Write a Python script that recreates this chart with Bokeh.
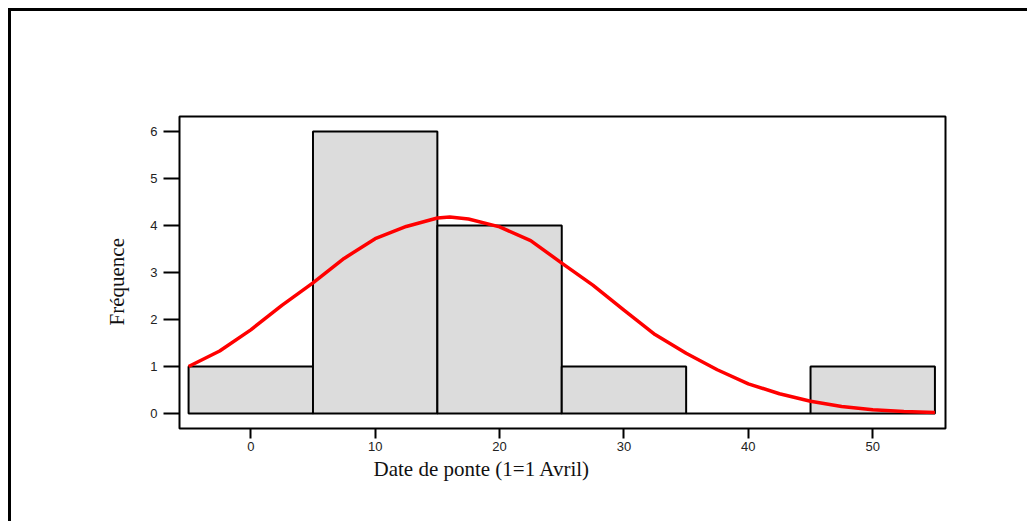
from bokeh.plotting import figure
from bokeh.models import Range1d, Title, FixedTicker
from bokeh.embed import file_html
from bokeh.resources import INLINE

# Histogram data
bin_left = [-5, 5, 15, 25, 35, 45]
bin_right = [5, 15, 25, 35, 45, 55]
counts = [1, 6, 4, 1, 0, 1]

# Fitted normal curve
curve_x = [-5, -2.5, 0, 2.5, 5, 7.5, 10, 12.5, 15, 16, 17.5, 20, 22.5, 25,
           27.5, 30, 32.5, 35, 37.5, 40, 42.5, 45, 47.5, 50, 52.5, 55]
curve_y = [1.0, 1.33, 1.78, 2.30, 2.78, 3.30, 3.72, 3.98, 4.16, 4.18, 4.14,
           3.97, 3.68, 3.20, 2.73, 2.20, 1.68, 1.28, 0.93, 0.63, 0.42, 0.26,
           0.15, 0.08, 0.04, 0.02]

x_ticks = [0, 10, 20, 30, 40, 50]
y_ticks = [0, 1, 2, 3, 4, 5, 6]
x_label = "Date de ponte (1=1 Avril)"
y_label = "Fréquence"

p = figure(width=1019, height=513, output_backend="svg", toolbar_location=None,
           x_range=Range1d(-5.73, 55.85), y_range=Range1d(-0.32, 6.32),
           min_border_left=168, min_border_top=105, min_border_right=85,
           min_border_bottom=96)
p.margin = (8, 0, 0, 8)
p.styles = {"border-left": "3px solid black", "border-top": "3px solid black"}

p.xgrid.visible = False
p.ygrid.visible = False
p.background_fill_color = "white"
p.border_fill_color = "white"
p.outline_line_color = "black"
p.outline_line_width = 2

p.quad(left=bin_left, right=bin_right, bottom=0, top=counts,
       fill_color="#DCDCDC", line_color="black", line_width=2)
p.line(curve_x, curve_y, line_color="#FF0000", line_width=3.5)

for ax in (p.xaxis[0], p.yaxis[0]):
    ax.axis_line_color = None
    ax.major_tick_line_color = "black"
    ax.major_tick_line_width = 2
    ax.minor_tick_line_color = None
    ax.major_tick_in = 0
    ax.major_label_text_font = "Liberation Sans"
    ax.major_label_text_font_size = "13px"
    ax.major_label_text_color = "#222222"

p.xaxis[0].ticker = FixedTicker(ticks=x_ticks)
p.yaxis[0].ticker = FixedTicker(ticks=y_ticks)
p.xaxis[0].major_tick_out = 10
p.yaxis[0].major_tick_out = 16
p.xaxis[0].major_label_standoff = 3
p.yaxis[0].major_label_standoff = 6
p.yaxis[0].major_label_orientation = "horizontal"

p.add_layout(Title(text=x_label, align="left", offset=194,
                   text_font="Liberation Serif", text_font_size="21px",
                   text_font_style="normal", text_color="#111111",
                   standoff=3), "below")
p.add_layout(Title(text=y_label, align="left", offset=103,
                   text_font="Liberation Serif", text_font_size="21px",
                   text_font_style="normal", text_color="#111111",
                   standoff=38), "left")

open("out.html", "w").write(file_html(p, INLINE))
